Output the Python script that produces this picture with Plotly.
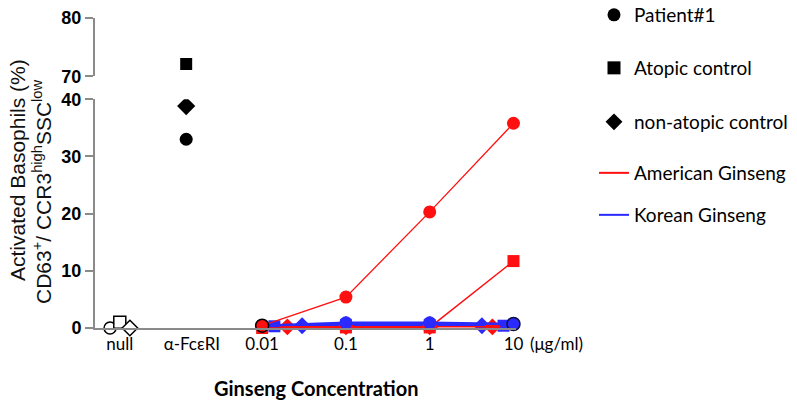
import plotly.graph_objects as go

# ---------------- data ----------------
x_labels = ["null", "α-FcεRI", "0.01", "0.1", "1", "10"]
conc = [0.01, 0.1, 1, 10]

# controls (no ginseng)
null_patient = [0.0]
null_atopic = [1.0]
null_nonatopic = [0.0]
fc_patient = [33.0]
fc_atopic = [72.1]
fc_nonatopic = [38.8]

# American ginseng
amer_patient = [0.4, 5.4, 20.3, 35.8]
amer_atopic = [0.0, 0.1, 0.1, 11.7]
amer_nonatopic_conc = [0.02, 0.1, 1, 5.6]
amer_nonatopic = [0.2, 0.2, 0.2, 0.2]

# Korean ginseng
kor_patient = [0.4, 0.9, 0.9, 0.7]
kor_atopic_conc = [0.014, 0.1, 1, 7.6]
kor_atopic = [0.3, 0.5, 0.5, 0.4]
kor_nonatopic_conc = [0.03, 0.1, 1, 4.2]
kor_nonatopic = [0.4, 0.6, 0.6, 0.4]

# placement of the non-concentration categories on the log axis
NULL_X = {"circle": 1.53e-4, "square": 2.0e-4, "diamond": 2.64e-4}
FC_X = 1.24e-3
TICK_X = [2.0e-4, 1.45e-3, 0.01, 0.1, 1, 10]

RED = "#ff1010"
BLUE = "#2a2aff"
GRAY = "#8a8a8a"
MS = 13

fig = go.Figure()

# null (open markers)
for sym, vals in (("circle", null_patient), ("square", null_atopic), ("diamond", null_nonatopic)):
    fig.add_trace(go.Scatter(x=[NULL_X[sym]], y=vals, mode="markers", showlegend=False,
                             cliponaxis=False,
                             marker=dict(symbol=sym, size=MS - 1, color="white",
                                         line=dict(color="black", width=1.5))))
# alpha-FceRI
fig.add_trace(go.Scatter(x=[FC_X], y=fc_patient, mode="markers", showlegend=False,
                         marker=dict(symbol="circle", size=MS, color="black")))
fig.add_trace(go.Scatter(x=[FC_X], y=fc_nonatopic, mode="markers", showlegend=False,
                         marker=dict(symbol="diamond", size=MS + 1, color="black")))
fig.add_trace(go.Scatter(x=[FC_X], y=fc_atopic, mode="markers", showlegend=False, yaxis="y2",
                         marker=dict(symbol="square", size=MS - 1, color="black")))

# Korean squares / diamonds
fig.add_trace(go.Scatter(x=kor_atopic_conc, y=kor_atopic, mode="lines+markers", showlegend=False,
                         cliponaxis=False, line=dict(color=BLUE, width=2.5),
                         marker=dict(symbol="square", size=MS - 1, color=BLUE)))
fig.add_trace(go.Scatter(x=kor_nonatopic_conc, y=kor_nonatopic, mode="lines+markers", showlegend=False,
                         cliponaxis=False, line=dict(color=BLUE, width=2.5),
                         marker=dict(symbol="diamond", size=MS, color=BLUE)))
# American squares / diamonds
fig.add_trace(go.Scatter(x=conc, y=amer_atopic, mode="lines+markers", showlegend=False,
                         cliponaxis=False, line=dict(color=RED, width=1.5),
                         marker=dict(symbol="square", size=MS - 1, color=RED)))
fig.add_trace(go.Scatter(x=amer_nonatopic_conc, y=amer_nonatopic, mode="lines+markers", showlegend=False,
                         cliponaxis=False, line=dict(color=RED, width=1.5),
                         marker=dict(symbol="diamond", size=MS, color=RED)))
# Korean circles
fig.add_trace(go.Scatter(x=conc, y=kor_patient, mode="lines+markers", showlegend=False,
                         cliponaxis=False, line=dict(color=BLUE, width=2.5),
                         marker=dict(symbol="circle", size=MS, color=BLUE,
                                     line=dict(color="#101040", width=[0, 0, 0, 1.5]))))
# American circles
fig.add_trace(go.Scatter(x=conc, y=amer_patient, mode="lines+markers", showlegend=False,
                         cliponaxis=False, line=dict(color=RED, width=1.3),
                         marker=dict(symbol="circle", size=MS, color=RED,
                                     line=dict(color="black", width=[1.5, 0, 0, 0]))))

# legend entries (one legend each, to reproduce the uneven spacing)
leg_items = [
    ("Patient#1", "markers", "circle", "black", "legend"),
    ("Atopic control", "markers", "square", "black", "legend2"),
    ("non-atopic control", "markers", "diamond", "black", "legend3"),
    ("American Ginseng", "lines", None, RED, "legend4"),
    ("Korean Ginseng", "lines", None, BLUE, "legend5"),
]
for name, mode, sym, col, leg in leg_items:
    kw = dict(x=[None], y=[None], name=name, mode=mode, legend=leg, showlegend=True)
    if mode == "markers":
        kw["marker"] = dict(symbol=sym, size=MS, color=col)
    else:
        kw["line"] = dict(color=col, width=2)
    fig.add_trace(go.Scatter(**kw))

L, R, T, B = 95, 281, 18, 76
W, H = 797, 404
PW, PH = W - L - R, H - T - B

def px_x(px):
    return (px - L) / PW

def px_y(py):
    return (H - B - py) / PH

leg_font = dict(family="Lato", size=19, color="black")
leg_y = [15, 68, 122, 173, 215]
legends = {}
for i, yy in enumerate(leg_y):
    key = "legend" if i == 0 else f"legend{i + 1}"
    legends[key] = dict(x=px_x(594), y=px_y(yy), xanchor="left", yanchor="middle",
                        font=leg_font, bgcolor="rgba(0,0,0,0)", borderwidth=0)

axis_common = dict(showgrid=False, zeroline=False, showline=True, linecolor=GRAY, linewidth=2,
                   ticks="outside", ticklen=8, tickwidth=2, tickcolor=GRAY,
                   tickfont=dict(family="Liberation Sans", size=18, color="black", weight="bold"))

fig.update_layout(
    width=W, height=H, margin=dict(l=L, r=R, t=T, b=B, autoexpand=False),
    plot_bgcolor="white", paper_bgcolor="white",
    xaxis=dict(type="log", range=[-3.995, 1.03], tickvals=TICK_X, ticktext=x_labels,
               ticks="", showgrid=False, zeroline=False, showline=True, linecolor=GRAY, linewidth=2,
               tickfont=dict(family="Lato", size=17, color="black"), anchor="y", automargin=False),
    yaxis=dict(domain=[0, 0.738], range=[0, 40], tickvals=[0, 10, 20, 30, 40], anchor="x",
               automargin=False, **axis_common),
    yaxis2=dict(domain=[0.812, 1], range=[70, 80], tickvals=[70, 80], anchor="x",
                automargin=False, **axis_common),
    **legends,
)

fig.add_annotation(text="(μg/ml)", x=px_x(556), y=px_y(343), xref="paper", yref="paper",
                   xanchor="center", yanchor="middle",
                   showarrow=False, font=dict(family="Lato", size=17, color="black"))
fig.add_annotation(text="Ginseng Concentration", x=px_x(316), y=px_y(388), xref="paper", yref="paper",
                   xanchor="center", yanchor="middle",
                   showarrow=False, font=dict(family="Lato", size=20, color="black", weight="bold"))
fig.add_annotation(text="Activated Basophils (%)", x=px_x(17), y=px_y(170), xref="paper", yref="paper",
                   xanchor="center", yanchor="middle",
                   textangle=-90, showarrow=False,
                   font=dict(family="Liberation Sans", size=21, color="#111"))
fig.add_annotation(text="CD63<sup>+</sup>/ CCR3<sup>high</sup>SSC<sup>low</sup>", x=px_x(42), y=px_y(192),
                   xref="paper", yref="paper", xanchor="center", yanchor="middle",
                   textangle=-90, showarrow=False,
                   font=dict(family="Liberation Sans", size=21, color="#111"))

fig.write_html("out.html", config={"displayModeBar": False},
               post_script="document.body.style.margin='0';")
